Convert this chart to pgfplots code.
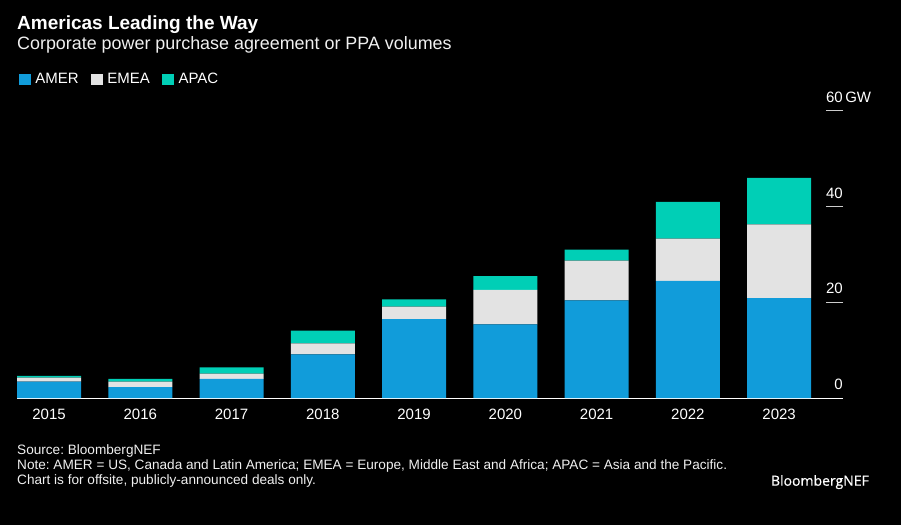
\documentclass[border=0pt]{standalone}
\usepackage{pgfplots}
\pgfplotsset{compat=1.18}
\usetikzlibrary{backgrounds,calc}
\usepackage{fontspec}
\setmainfont{Liberation Sans}
\newfontfamily\logofont[FakeBold=0.6]{Open Sans}
\definecolor{amer}{HTML}{119CDA}
\definecolor{emea}{HTML}{E3E3E3}
\definecolor{apac}{HTML}{00CFB6}
\definecolor{txt}{HTML}{F0F0F0}
\frenchspacing
\begin{document}
\begin{tikzpicture}[x=1pt,y=1pt]
\begin{axis}[
  scale only axis,
  width=826pt, height=287pt,
  xmin=-0.351, xmax=8.70, ymin=0, ymax=60,
  ybar stacked, bar width=64pt,
  axis x line=bottom, axis y line=right,
  axis line style={-},
  x axis line style={white, line width=1pt},
  y axis line style={draw=none},
  xtick={0,...,8},
  xticklabels={2015,2016,2017,2018,2019,2020,2021,2022,2023},
  xtick style={draw=none},
  ytick={0,20,40,60},
  yticklabels={0,20,40,60\rlap{\,GW}},
  tick align=inside,
  ytick style={white!80!black, line width=1pt},
  major tick length=17pt,
  /pgf/number format/assume math mode=true,
  xticklabel style={text=white, font=\fontsize{15}{18}\selectfont, anchor=north, inner sep=0pt, yshift=-10.5pt},
  yticklabel style={text=white, font=\fontsize{15}{18}\selectfont, anchor=south east, inner sep=0pt, yshift=8pt},
  clip=false,
  legend columns=-1,
  legend style={at={(axis description cs:0.0024,1.133)}, anchor=north west, draw=none, fill=none, inner sep=0pt, text=white, font=\fontsize{15}{18}\selectfont, nodes={inner sep=0pt}, column sep=4.3pt, /tikz/every even column/.append style={column sep=12.3pt}},
  legend image code/.code={\fill[#1] (0pt,-5.5pt) rectangle (12pt,5.5pt);},
]
\coordinate (O) at (rel axis cs:0,0);
\addplot[fill=amer, draw=none] coordinates {(0,3.4) (1,2.3) (2,4.0) (3,9.1) (4,16.5) (5,15.4) (6,20.4) (7,24.5) (8,20.9)};
\addplot[fill=emea, draw=none] coordinates {(0,0.85) (1,1.1) (2,1.1) (3,2.3) (4,2.6) (5,7.2) (6,8.3) (7,8.8) (8,15.4)};
\addplot[fill=apac, draw=none] coordinates {(0,0.35) (1,0.6) (2,1.3) (3,2.7) (4,1.5) (5,2.9) (6,2.3) (7,7.7) (8,9.7)};
\legend{AMER,EMEA,APAC}
\end{axis}
\begin{scope}[on background layer]
\fill[black] ($(O)+(-17,-127)$) rectangle ($(O)+(884,398)$);
\end{scope}
\node[anchor=base west, inner sep=0pt, text=white, font=\bfseries\fontsize{19}{22}\selectfont] at ($(O)+(0,368.5)$) {Americas Leading the Way};
\node[anchor=base west, inner sep=0pt, text=txt, font=\fontsize{17.9}{22}\selectfont] at ($(O)+(0,348)$) {Corporate power purchase agreement or PPA volumes};
\node[anchor=base west, inner sep=0pt, text=txt, font=\fontsize{13.6}{17}\selectfont] at ($(O)+(0,-56)$) {Source: BloombergNEF};
\node[anchor=base west, inner sep=0pt, text=txt, font=\fontsize{13.6}{17}\selectfont] at ($(O)+(0,-71)$) {Note: AMER = US, Canada and Latin America; EMEA = Europe, Middle East and Africa; APAC = Asia and the Pacific.};
\node[anchor=base west, inner sep=0pt, text=txt, font=\fontsize{13.6}{17}\selectfont] at ($(O)+(0,-86)$) {Chart is for offsite, publicly-announced deals only.};
\node[anchor=base east, inner sep=0pt, text=white, font=\logofont\fontsize{14}{17}\selectfont] at ($(O)+(852,-87.7)$) {BloombergNEF};
\end{tikzpicture}
\end{document}
